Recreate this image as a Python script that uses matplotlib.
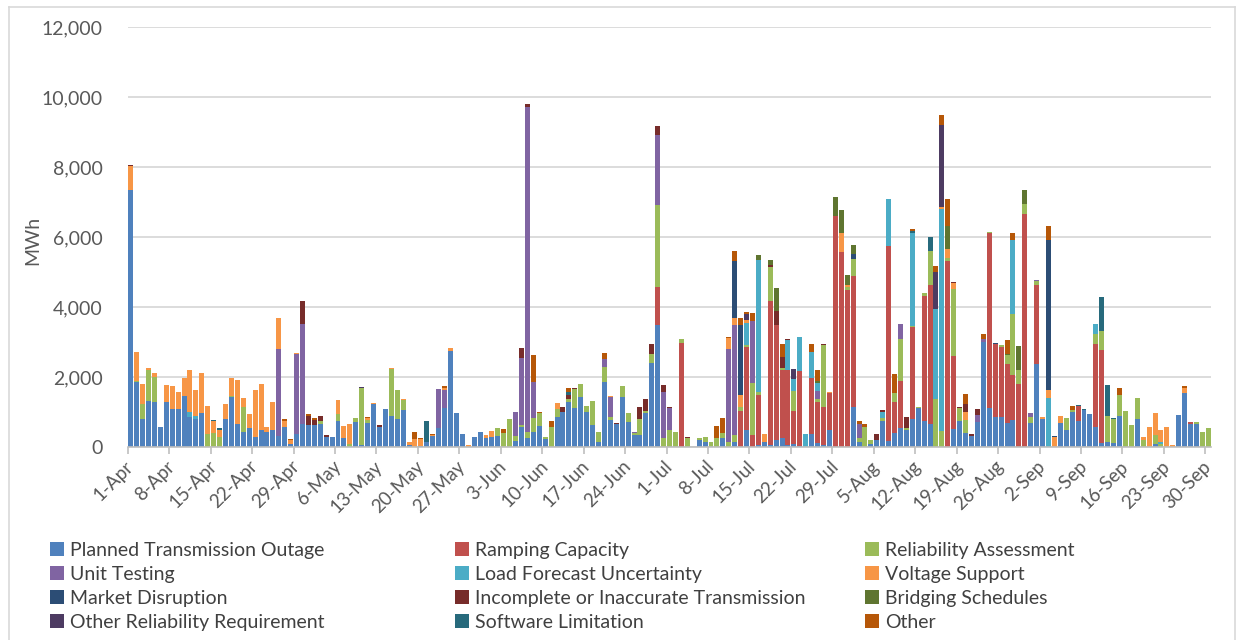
import numpy as np
import pandas as pd
import matplotlib
matplotlib.use("Agg")
import matplotlib.pyplot as plt
from matplotlib.patches import Patch
from matplotlib.lines import Line2D
from matplotlib.ticker import FuncFormatter

# daily MWh by reason, 1-Apr .. 30-Sep (20 days per row)
days = pd.date_range("2021-04-01", "2021-09-30", freq="D")

planned = [
    7330, 1850, 800, 1325, 1300, 560, 1300, 1075, 1100, 1450, 845, 800, 980, 0, 0, 0, 790, 1420, 670, 415,
    530, 300, 480, 440, 480, 320, 560, 80, 365, 650, 635, 635, 670, 300, 290, 750, 270, 0, 720, 60,
    700, 1230, 575, 1075, 875, 800, 1065, 50, 0, 30, 150, 320, 540, 1115, 2735, 970, 385, 10, 300, 440,
    250, 300, 320, 0, 0, 170, 580, 265, 440, 600, 230, 0, 865, 1010, 1295, 1125, 1440, 990, 630, 150,
    1850, 770, 650, 1440, 725, 340, 340, 960, 2390, 3485, 0, 0, 0, 0, 0, 0, 200, 150, 0, 0,
    250, 0, 150, 0, 485, 0, 60, 150, 60, 200, 250, 50, 95, 30, 0, 365, 125, 60, 480, 0,
    0, 0, 1130, 145, 0, 75, 190, 750, 170, 395, 555, 490, 790, 1125, 745, 650, 0, 0, 0, 505,
    750, 410, 325, 725, 2990, 1125, 865, 865, 695, 770, 0, 0, 695, 2370, 790, 0, 0, 700, 490, 990,
    750, 1055, 940, 575, 125, 145, 115, 875, 0, 0, 800, 0, 0, 75, 0, 0, 0, 920, 1555, 655,
    655, 0, 0]

ramping = [
    0] * 80 + [
    0, 0, 0, 0, 0, 0, 0, 0, 0, 1075, 0, 0, 0, 2960, 0, 0, 0, 0, 0, 0,
    0, 0, 0, 1040, 2380, 340, 1425, 0, 4120, 3295, 1940, 2140, 925, 2140, 0, 1605, 1150, 1070, 1065, 6600,
    5570, 4490, 3745, 0, 0, 0, 0, 0, 5570, 880, 1325, 0, 2650, 0, 3580, 3980, 0, 0, 5315, 2095,
    0, 0, 0, 0, 0, 4980, 2075, 2000, 1675, 1280, 1800, 6655, 0, 2250, 0, 0, 0, 0, 0, 0,
    420, 0, 0, 2365, 2640, 0, 0, 0, 0, 0, 0, 0, 0, 0, 0, 0, 0, 0, 0, 65,
    0, 0, 0]

reliability = [
    0, 50, 430, 885, 700, 0, 0, 0, 0, 0, 0, 0, 0, 365, 395, 300, 0, 40, 0, 715,
    0, 0, 0, 0, 0, 0, 0, 0, 0, 0, 0, 0, 80, 0, 0, 200, 0, 80, 95, 1630,
    70, 0, 0, 0, 1345, 830, 290, 0, 0, 0, 0, 0, 0, 0, 0, 0, 0, 0, 0, 0,
    0, 0, 210, 400, 800, 145, 50, 175, 380, 360, 65, 560, 220, 0, 75, 525, 350, 180, 685, 290,
    425, 95, 0, 305, 255, 70, 450, 70, 270, 2355, 250, 485, 420, 125, 265, 0, 65, 145, 150, 265,
    140, 150, 190, 90, 50, 1480, 95, 0, 955, 0, 75, 0, 575, 0, 0, 0, 95, 1780, 0, 0,
    0, 70, 510, 125, 575, 135, 0, 65, 0, 270, 1200, 65, 30, 25, 65, 970, 1360, 450, 75, 1925,
    375, 360, 0, 0, 0, 25, 0, 50, 250, 1740, 400, 290, 155, 125, 0, 0, 0, 0, 325, 75,
    0, 0, 0, 275, 545, 730, 680, 625, 1020, 635, 600, 200, 0, 270, 95, 0, 0, 0, 0, 0,
    65, 440, 540]

unit_testing = [
    0] * 20 + [
    0, 0, 0, 0, 0, 2490, 0, 0, 2285, 2870, 0, 0, 0, 0, 0, 0, 0, 0, 0, 0,
    0, 0, 0, 0, 0, 0, 0, 0, 0, 0, 0, 0, 1130, 525, 0, 0, 0, 0, 0, 0,
    0, 0, 0, 0, 0, 675, 1900, 9280, 1045, 0, 0, 0, 0, 0, 0, 0, 0, 0, 0, 0,
    250, 555, 0, 0, 0, 30, 0, 0, 0, 2000, 1310, 620, 0, 0, 0, 0, 0, 0, 0, 0,
    0, 2650, 3135, 0, 0, 1790, 0, 0, 0, 0, 0, 0, 0, 0, 0, 0, 240, 0, 0, 0,
    0, 0, 0, 385, 0, 0, 0, 0, 0, 0, 425, 0, 0, 0, 0, 0, 0, 0, 0, 0,
    0, 0, 0, 190, 95, 0, 0, 0, 0, 0, 0, 0, 110, 30, 0, 0, 0, 0, 0, 0,
    0] + [0] * 22

load_forecast = [
    0, 0, 0, 0, 0, 0, 0, 0, 0, 0, 165, 90, 0, 0, 0, 0, 0, 0, 0, 0] + [0] * 80 + [
    0, 0, 0, 0, 615, 0, 3760, 0, 0, 0, 0, 860, 355, 960, 370, 745, 215, 0, 0, 0,
    0, 0, 0, 0, 0, 0, 0, 175, 1345, 0, 0, 0, 2635, 0, 0, 0, 2580, 6350, 0, 0,
    0, 0, 0, 0, 0, 0, 0, 0, 0, 2125, 0, 0, 0, 0, 0, 1400, 0, 0, 0, 0,
    0, 0, 0, 300, 0, 0, 0, 0, 0, 0, 0, 0, 0, 0, 50, 0, 0, 0, 0, 0,
    0, 0, 0]

voltage = [
    700, 820, 570, 40, 110, 0, 480, 665, 485, 530, 1200, 740, 1130, 815, 335, 200, 440, 520, 1250, 270,
    420, 1330, 1320, 120, 820, 880, 170, 120, 30, 0, 0, 0, 0, 0, 0, 405, 335, 570, 0, 0,
    55, 30, 0, 0, 30, 0, 25, 95, 220, 190, 0, 30, 0, 50, 105, 0, 0, 50, 0, 0,
    95, 160, 0, 0, 0, 0, 0, 0, 0, 0, 0, 0, 180, 0, 0, 0, 0, 0, 0, 0,
    0, 35, 0, 0, 0, 0, 0, 0, 0, 0, 0, 0, 20, 0, 0, 0, 0, 0, 0, 0,
    0, 325, 220, 355, 100, 0, 0, 220, 0, 0, 0, 0, 0, 0, 0, 0, 0, 0, 40, 0,
    535, 75, 0, 0, 0, 0, 0, 0, 0, 0, 0, 0, 0, 0, 0, 0, 0, 50, 275, 150,
    0, 240, 0, 0, 0, 0, 0, 0, 0, 0, 0, 0, 0, 0, 75, 240, 290, 190, 0, 0,
    0, 0, 0, 0, 0, 0, 0, 0, 0, 0, 0, 100, 575, 625, 345, 585, 65, 0, 145, 0,
    0, 0, 0]

market = [0] * 100 + [
    0, 0, 1630, 2000, 0, 0, 0, 0, 0, 0, 0, 0, 0, 0, 0, 0, 0, 0, 0, 0,
    0, 0, 135, 0, 0, 0, 0, 0, 0, 0, 0, 0, 0, 0, 0, 0, 0, 0, 0, 0,
    0, 0, 0, 0, 0, 0, 40, 0, 0, 0, 0, 0, 0, 0, 0, 4275, 25, 0, 0, 0,
    0] + [0] * 22

incomplete = [
    40, 0, 0, 0, 0, 0, 0, 0, 0, 0, 0, 0, 0, 0, 0, 0, 0, 0, 0, 0,
    0, 0, 0, 0, 0, 0, 0, 0, 0, 660, 240, 145, 140, 30, 0, 0, 0, 0, 0, 0,
    0, 0, 50, 25, 0, 0, 0, 0, 0, 0, 0, 0, 0, 0, 0, 0, 0, 0, 0, 0,
    0, 0, 0, 0, 0, 0, 290, 80, 0, 0, 0, 0, 0, 120, 115, 25, 0, 0, 0, 0,
    0, 0, 45, 0, 0, 0, 360, 330, 285, 255, 200, 25, 0, 0, 30, 0, 0, 0, 0, 0,
    0, 0, 0, 0, 0, 0, 0, 0, 55, 400, 310, 40, 0, 0, 0, 0, 0, 45, 0, 0,
    0, 0, 0, 0, 0, 0, 195, 65, 0, 0, 0, 290, 0, 0, 0, 0, 0, 0, 0, 30,
    25, 220, 45, 160, 0, 0, 0, 0, 0, 0, 0, 0, 0, 0, 0, 0, 0, 0, 0, 0,
    0] + [0] * 22

bridging = [0] * 100 + [
    0, 0, 0, 0, 0, 0, 145, 0, 145, 640, 0, 0, 0, 0, 0, 0, 75, 0, 0, 535,
    665, 290, 250, 0, 0, 0, 0, 0, 0, 0, 0, 0, 0, 0, 0, 0, 0, 0, 660, 0,
    0, 0, 0, 0, 0, 0, 0, 0, 35, 0, 685, 400, 0, 0, 0, 0, 0, 0, 0, 0,
    0] + [0] * 22

other_rel = [0] * 39 + [20] + [0] * 64 + [160] + [0] * 7 + [285] + [0] * 23 + [1060, 2350] + [0] * 45

software = [
    0, 0, 0, 0, 0, 0, 0, 0, 0, 0, 0, 0, 0, 0, 40, 40, 0, 0, 0, 0] + [0] * 20 + [
    0, 0, 0, 0, 0, 0, 0, 0, 0, 0, 600, 0, 0, 0, 0, 0, 0, 0, 0, 0,
    0, 0, 0, 0, 0, 0, 0, 0, 0, 0, 0, 0, 0, 0, 95, 0, 0, 0, 0, 0] + [0] * 40 + [
    0, 0, 0, 0, 0, 0, 0, 0, 0, 0, 0, 0, 65, 0, 0, 400, 0, 0, 0, 0] + [0] * 20 + [
    40, 30, 0, 0, 990, 900, 30, 0, 0, 0, 0, 0, 0, 0, 0, 0, 0, 0, 0, 0,
    0, 0, 0]

other = [
    0] * 20 + [
    0, 0, 0, 0, 0, 0, 80, 40, 0, 0, 75, 35, 0, 0, 0, 0, 0, 0, 0, 0,
    20, 0, 0, 0, 0, 0, 0, 0, 200, 50, 0, 15, 0, 40, 0, 0, 0, 0, 0, 0,
    0, 0, 0, 120, 0, 0, 0, 0, 765, 30, 0, 180, 0, 0, 115, 0, 0, 0, 0, 0,
    170, 0, 0, 0, 0, 0, 0, 0, 0, 0, 0, 0, 0, 0, 0, 0, 0, 0, 0, 335,
    450, 15, 265, 200, 75, 210, 0, 0, 0, 0, 380, 0, 0, 0, 0, 240, 310, 0, 0, 0,
    0, 0, 0, 95, 80, 0, 0, 0, 0, 530, 0, 0, 50, 0, 0, 0, 180, 285, 750, 0,
    0, 285, 0, 0, 135, 0, 0, 0, 400, 210, 0, 0, 0, 0, 0, 400, 0, 0, 0, 95,
    0, 0, 0, 0, 0, 0, 0, 190, 0, 0, 0, 0, 0, 0, 0, 0, 0, 0, 30, 0,
    0, 0, 0]

series = [
    ("Planned Transmission Outage", planned, "#4F81BD"),
    ("Ramping Capacity", ramping, "#C0504D"),
    ("Reliability Assessment", reliability, "#9BBB59"),
    ("Unit Testing", unit_testing, "#8064A2"),
    ("Load Forecast Uncertainty", load_forecast, "#4BACC6"),
    ("Voltage Support", voltage, "#F79646"),
    ("Market Disruption", market, "#2C4D75"),
    ("Incomplete or Inaccurate Transmission", incomplete, "#772C2A"),
    ("Bridging Schedules", bridging, "#5F7530"),
    ("Other Reliability Requirement", other_rel, "#4D3B62"),
    ("Software Limitation", software, "#276A7C"),
    ("Other", other, "#B65708"),
]

plt.rcParams["font.family"] = ["Lato", "DejaVu Sans"]
W, H = 1236, 640
fig = plt.figure(figsize=(W / 100, H / 100), dpi=100)
ax = fig.add_axes([127.8 / W, 1 - 447 / H, 1083.5 / W, 420 / H])

n = len(days)
x = np.arange(n)
bottom = np.zeros(n)
for name, vals, col in series:
    v = np.array(vals[:n], dtype=float)
    ax.bar(x, v, 0.84, bottom=bottom, color=col, linewidth=0)
    bottom += v

ax.set_xlim(-0.5, n - 0.5)
ax.set_ylim(0, 12000)
ax.set_yticks(range(0, 12001, 2000))
ax.yaxis.set_major_formatter(FuncFormatter(lambda v, p: f"{int(v):,}"))
ax.grid(axis="y", color="#D9D9D9", lw=1.3)
ax.set_axisbelow(True)
for s in ["top", "right", "left"]:
    ax.spines[s].set_visible(False)
ax.spines["bottom"].set_color("#BFBFBF")
ax.spines["bottom"].set_linewidth(1.2)
ax.tick_params(axis="y", length=0, pad=18, labelsize=14, labelcolor="#595959")

ticks = x[::7]
ax.set_xticks(ticks)
ax.set_xticklabels([f"{d.day}-{d.strftime('%b')}" for d in days[::7]],
                   rotation=45, ha="right", va="center", rotation_mode="anchor")
ax.tick_params(axis="x", length=0, pad=12, labelsize=13.5, labelcolor="#595959")
ax.set_xticks(ticks - 0.5, minor=True)
ax.tick_params(axis="x", which="minor", length=5, color="#BFBFBF", width=1.2)

fig.text(33 / W, 1 - 240 / H, "MWh", rotation=90, ha="center", va="center",
         fontsize=14, color="#595959")

# legend: three columns, four rows each
col_x = [50, 455, 865]
for c in range(3):
    items = [series[c + 3 * r] for r in range(4)]
    handles = [Patch(facecolor=col, edgecolor="none") for _, _, col in items]
    fig.legend(handles, [nm for nm, _, _ in items], loc="upper left",
               bbox_to_anchor=(col_x[c] / W, 1 - 542 / H), frameon=False,
               fontsize=14, labelcolor="#404040", handlelength=0.7, handleheight=0.7,
               handletextpad=0.35, labelspacing=0.36, borderpad=0, borderaxespad=0)

# chart border
bc = "#D9D9D9"
fig.add_artist(Line2D([8.5 / W, 8.5 / W], [0, 1 - 6.5 / H], color=bc, lw=1.2))
fig.add_artist(Line2D([8.5 / W, 1234.5 / W], [1 - 6.5 / H, 1 - 6.5 / H], color=bc, lw=1.2))
fig.add_artist(Line2D([1234.5 / W, 1234.5 / W], [0, 1 - 6.5 / H], color=bc, lw=1.2))

fig.savefig("out.png", dpi=100)
